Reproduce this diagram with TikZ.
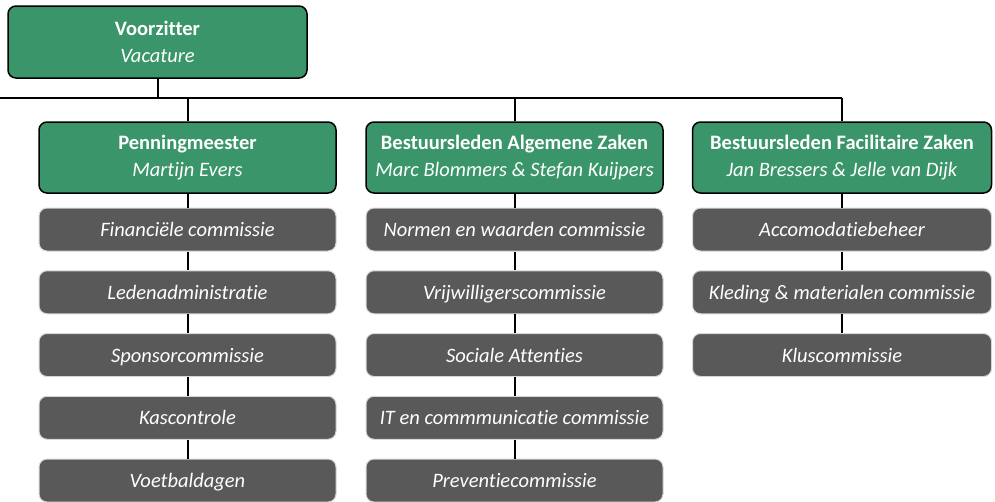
\documentclass[tikz,border=0pt]{standalone}
\usepackage{fontspec}
\setmainfont{Carlito}[Ligatures=NoCommon]
\definecolor{boxgreen}{RGB}{58,150,106}
\definecolor{boxgrey}{RGB}{89,89,89}
\definecolor{rimgrey}{RGB}{215,215,215}
\begin{document}
\begin{tikzpicture}[x=1pt,y=-1pt,
  head/.style={draw=black,line width=1.5pt,fill=boxgreen,rounded corners=8pt,
    minimum height=71pt,inner sep=0pt,text=white,align=center,
    font=\fontsize{20.5}{27}\selectfont},
  sub/.style={draw=rimgrey,line width=1pt,fill=boxgrey,rounded corners=8pt,
    minimum width=297pt,minimum height=43pt,inner sep=0pt,text=white,
    text height=16pt,text depth=2pt,
    font=\fontsize{20.5}{24}\selectfont\itshape},
  link/.style={draw=black,line width=2pt}]
\useasboundingbox (0,0) rectangle (995,501);
\node[head,minimum width=299pt,minimum height=72pt] (vz) at (157.5,42) {\textbf{Voorzitter}\\\textit{Vacature}};
\node[head,minimum width=297pt] (pm) at (187.5,157.5) {\textbf{Penningmeester}\\\textit{Martijn Evers}};
\node[head,minimum width=297pt] (az) at (514.5,157.5) {\textbf{Bestuursleden Algemene Zaken}\\\textit{Marc Blommers \& Stefan Kuijpers}};
\node[head,minimum width=299pt] (fz) at (842,157.5) {\textbf{Bestuursleden Facilitaire Zaken}\\\textit{Jan Bressers \& Jelle van Dijk}};
\coordinate (busL) at (0,98);
\coordinate (busR) at (842,98);
% column 1
\node[sub] (p1) at (187.5,229.5) {Financiële commissie};
\node[sub] (p2) at (187.5,292.25) {Ledenadministratie};
\node[sub] (p3) at (187.5,355) {Sponsorcommissie};
\node[sub] (p4) at (187.5,417.75) {Kascontrole};
\node[sub] (p5) at (187.5,480.5) {Voetbaldagen};
% column 2
\node[sub] (a1) at (514.5,229.5) {Normen en waarden commissie};
\node[sub] (a2) at (514.5,292.25) {Vrijwilligerscommissie};
\node[sub] (a3) at (514.5,355) {Sociale Attenties};
\node[sub] (a4) at (514.5,417.75) {IT en commmunicatie commissie};
\node[sub] (a5) at (514.5,480.5) {Preventiecommissie};
% column 3
\node[sub,minimum width=299pt] (f1) at (842,229.5) {Accomodatiebeheer};
\node[sub,minimum width=299pt] (f2) at (842,292.25) {Kleding \& materialen commissie};
\node[sub,minimum width=299pt] (f3) at (842,355) {Kluscommissie};
% connectors
\draw[link] (busL) -- (busR);
\draw[link] (vz.south) -- (vz.south |- busL);
\draw[link] (pm.north |- busL) -- (pm.north);
\draw[link] (az.north |- busL) -- (az.north);
\draw[link] (busR) -- (fz.north);
\draw[link] (pm.south) -- (p1.north);
\draw[link] (p1.south) -- (p2.north);
\draw[link] (p2.south) -- (p3.north);
\draw[link] (p3.south) -- (p4.north);
\draw[link] (p4.south) -- (p5.north);
\draw[link] (az.south) -- (a1.north);
\draw[link] (a1.south) -- (a2.north);
\draw[link] (a2.south) -- (a3.north);
\draw[link] (a3.south) -- (a4.north);
\draw[link] (a4.south) -- (a5.north);
\draw[link] (fz.south) -- (f1.north);
\draw[link] (f1.south) -- (f2.north);
\draw[link] (f2.south) -- (f3.north);
\end{tikzpicture}
\end{document}
